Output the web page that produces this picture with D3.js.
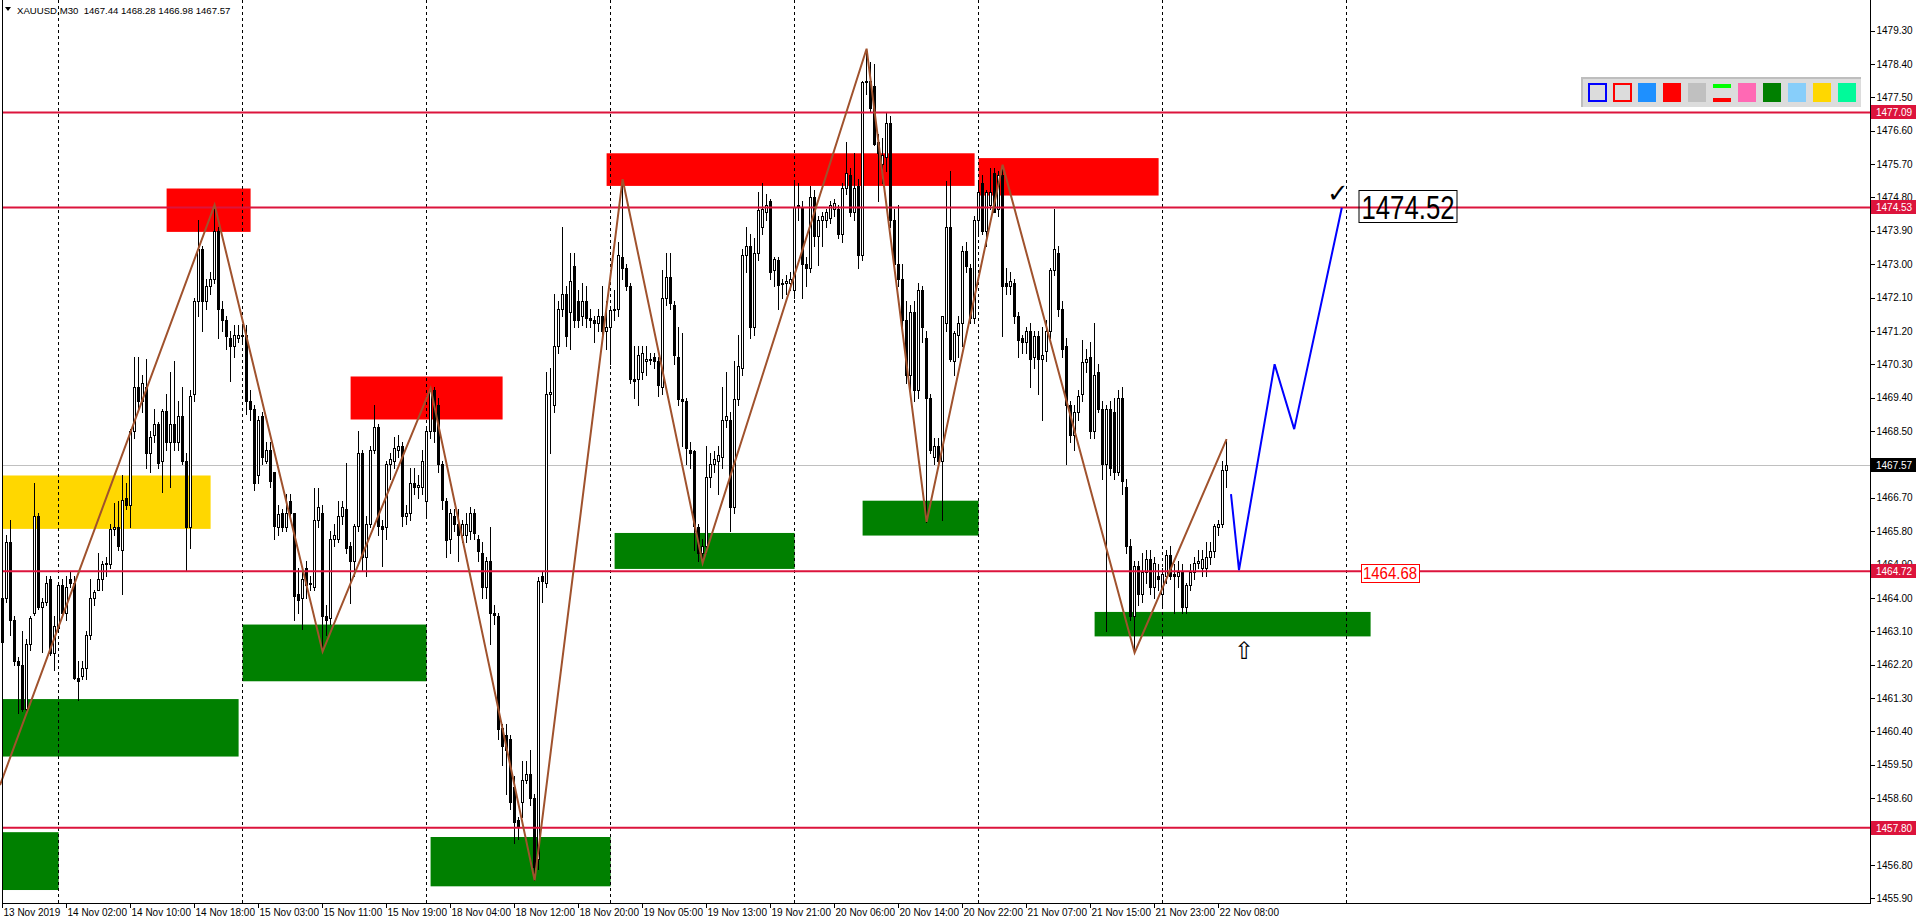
<!DOCTYPE html>
<html><head><meta charset="utf-8">
<script src="https://cdn.jsdelivr.net/npm/d3@7"></script>
<style>
html,body{margin:0;padding:0;background:#fff;overflow:hidden}
svg{display:block}
text{font-family:"Liberation Sans",Arial,sans-serif}
</style></head><body>
<svg id="c" width="1916" height="923"></svg>
<script>
// ---------- DATA ----------
const titleText = "XAUUSD,M30  1467.44 1468.28 1466.98 1467.57";
// candles: [open, high, low, close], M30 bars
const candles = [
[1462.8,1464.2,1462.2,1464.0],[1464.0,1465.7,1463.9,1465.5],[1465.5,1466.1,1463.0,1463.4],[1463.4,1463.5,1462.2,1462.3],[1462.3,1462.4,1460.9,1462.2],[1462.2,1463.1,1460.95,1461.0],[1461.0,1462.9,1460.9,1462.75],[1462.75,1463.5,1462.6,1463.45],[1463.6,1467.1,1463.55,1466.2],[1466.2,1466.3,1463.7,1463.75],
[1463.75,1464.0,1462.55,1463.9],[1463.9,1464.6,1463.8,1464.4],[1464.5,1464.6,1462.45,1462.5],[1462.5,1463.5,1462.05,1463.25],[1463.2,1464.4,1463.1,1464.35],[1464.35,1464.5,1463.5,1463.6],[1463.6,1464.6,1463.4,1464.3],[1464.5,1464.7,1464.3,1464.4],[1464.4,1464.6,1461.8,1461.85],[1461.85,1462.3,1461.25,1461.75],
[1461.9,1462.3,1461.8,1462.1],[1462.1,1463.1,1461.8,1463.0],[1463.0,1464.5,1462.9,1464.0],[1464.0,1464.2,1463.8,1464.15],[1464.2,1465.2,1464.2,1464.5],[1464.5,1465.0,1464.2,1464.9],[1464.9,1465.1,1464.6,1464.95],[1464.9,1466.0,1464.8,1465.85],[1465.85,1466.55,1465.7,1465.9],[1465.9,1466.6,1465.3,1465.4],
[1465.3,1467.3,1464.1,1466.65],[1466.7,1467.1,1466.4,1466.5],[1466.5,1468.55,1465.9,1468.5],[1468.5,1470.5,1468.3,1469.7],[1469.7,1470.5,1469.1,1469.3],[1469.3,1470.0,1469.0,1469.8],[1469.7,1470.45,1467.5,1467.9],[1467.9,1468.5,1467.4,1468.35],[1468.4,1469.1,1468.2,1468.7],[1468.7,1468.75,1467.5,1467.65],
[1467.7,1469.1,1466.85,1469.05],[1469.05,1469.5,1468.0,1468.2],[1468.2,1470.1,1467.0,1468.7],[1468.7,1470.4,1468.0,1468.2],[1468.2,1469.3,1468.0,1468.9],[1468.9,1469.7,1467.6,1467.7],[1467.7,1467.9,1464.75,1465.9],[1465.9,1469.6,1465.35,1469.45],[1469.5,1472.1,1469.3,1472.0],[1472.0,1474.2,1471.6,1473.4],
[1473.4,1473.5,1471.2,1472.0],[1472.0,1472.6,1471.8,1472.4],[1472.4,1472.8,1472.2,1472.6],[1472.6,1474.6,1472.5,1473.9],[1473.9,1474.0,1471.0,1471.8],[1471.8,1472.0,1471.2,1471.5],[1471.5,1471.6,1470.7,1471.05],[1471.0,1471.2,1469.85,1470.8],[1470.8,1471.35,1470.5,1471.1],[1471.0,1471.35,1470.9,1471.1],
[1471.1,1471.3,1470.9,1471.05],[1471.1,1471.35,1468.95,1469.3],[1469.3,1469.6,1468.8,1469.1],[1469.1,1469.2,1466.9,1467.1],[1467.3,1468.9,1467.1,1468.8],[1468.9,1469.0,1467.6,1467.8],[1467.7,1468.2,1467.65,1468.0],[1468.0,1468.2,1467.0,1467.15],[1467.4,1467.4,1465.6,1465.95],[1465.9,1466.5,1465.7,1466.25],
[1466.3,1466.4,1465.8,1465.9],[1465.9,1466.8,1465.8,1466.3],[1466.6,1466.8,1466.1,1466.3],[1466.3,1466.3,1463.4,1464.05],[1464.1,1464.8,1463.6,1463.95],[1464.0,1464.8,1463.15,1464.5],[1464.8,1465.0,1464.0,1464.35],[1464.4,1464.6,1464.2,1464.4],[1464.3,1466.95,1464.2,1466.1],[1466.1,1466.95,1465.9,1466.45],
[1466.3,1466.5,1462.55,1463.5],[1463.5,1463.8,1463.0,1463.4],[1463.45,1465.8,1463.3,1465.6],[1465.6,1466.0,1465.4,1465.7],[1465.6,1466.6,1465.5,1466.2],[1466.2,1466.6,1466.0,1466.45],[1466.4,1467.65,1465.2,1465.35],[1465.4,1465.5,1463.85,1465.0],[1465.0,1466.0,1464.6,1465.95],[1465.95,1468.5,1465.8,1467.9],
[1467.9,1468.0,1464.75,1465.1],[1465.1,1466.2,1464.6,1466.0],[1466.0,1468.1,1465.9,1468.0],[1468.0,1469.2,1467.9,1468.6],[1468.6,1468.7,1465.7,1465.95],[1465.95,1466.1,1464.85,1465.85],[1465.9,1467.7,1465.6,1467.6],[1467.6,1467.9,1467.2,1467.75],[1467.7,1468.35,1467.5,1468.05],[1468.0,1468.4,1467.8,1468.1],
[1468.1,1468.2,1465.95,1466.2],[1466.2,1466.5,1466.0,1466.3],[1466.3,1467.5,1466.1,1467.1],[1467.1,1467.5,1466.8,1467.0],[1467.0,1467.3,1466.7,1467.05],[1467.0,1468.0,1466.8,1467.7],[1466.6,1468.6,1466.2,1468.5],[1468.5,1469.65,1468.3,1469.6],[1469.6,1469.7,1468.2,1468.5],[1469.2,1469.4,1467.4,1467.6],
[1467.6,1467.7,1466.4,1466.65],[1466.6,1466.7,1465.1,1465.55],[1465.6,1466.4,1465.2,1466.3],[1466.2,1466.4,1465.8,1466.0],[1466.0,1466.4,1465.0,1465.7],[1465.7,1466.1,1465.5,1466.0],[1465.7,1466.3,1465.5,1466.0],[1465.8,1466.45,1465.6,1466.3],[1466.3,1466.4,1465.6,1465.75],[1465.6,1465.7,1465.0,1465.25],
[1465.2,1465.5,1464.0,1464.3],[1464.3,1465.1,1464.0,1465.0],[1465.0,1465.9,1462.75,1463.6],[1463.6,1463.8,1463.3,1463.55],[1463.5,1463.6,1460.2,1460.45],[1460.5,1460.6,1459.5,1460.0],[1460.3,1460.6,1458.7,1459.9],[1460.2,1460.3,1458.3,1458.5],[1458.9,1459.2,1457.4,1457.95],[1458.0,1458.1,1457.5,1457.85],
[1458.5,1459.6,1458.1,1459.1],[1459.1,1459.6,1459.0,1459.25],[1459.25,1459.9,1458.4,1458.6],[1458.6,1458.7,1456.38,1456.75],[1456.95,1464.55,1456.7,1464.45],[1464.6,1464.7,1463.9,1464.45],[1464.4,1470.1,1464.3,1469.5],[1469.5,1470.2,1467.9,1469.55],[1469.2,1472.2,1469.0,1470.8],[1470.8,1472.0,1470.6,1471.8],
[1471.8,1474.0,1471.6,1472.2],[1472.2,1472.4,1470.8,1471.05],[1471.7,1473.3,1470.7,1472.55],[1472.95,1473.3,1471.3,1471.5],[1472.0,1472.3,1471.3,1471.5],[1471.6,1472.5,1471.35,1472.0],[1472.0,1472.4,1471.3,1471.55],[1471.55,1471.8,1471.3,1471.5],[1471.5,1471.6,1470.9,1471.4],[1471.4,1471.8,1471.2,1471.6],
[1471.6,1472.4,1471.0,1471.2],[1471.2,1472.0,1470.7,1471.3],[1471.3,1471.8,1470.3,1471.75],[1471.75,1472.3,1471.5,1471.8],[1471.8,1473.6,1471.6,1473.25],[1473.2,1475.29,1472.6,1472.9],[1472.9,1473.0,1472.3,1472.4],[1472.4,1472.5,1469.8,1469.9],[1469.9,1470.8,1469.4,1469.85],[1469.9,1470.8,1469.2,1470.55],
[1470.1,1470.8,1469.9,1470.6],[1470.4,1470.8,1470.0,1470.45],[1470.45,1470.6,1470.3,1470.45],[1470.5,1470.6,1470.2,1470.4],[1470.4,1470.5,1469.45,1469.75],[1469.7,1472.85,1469.5,1472.1],[1472.1,1473.3,1471.9,1472.65],[1472.65,1473.3,1471.8,1471.95],[1471.9,1472.0,1470.3,1470.55],[1470.5,1471.3,1469.2,1469.35],
[1469.35,1471.15,1468.1,1469.3],[1469.3,1469.4,1467.6,1468.05],[1468.0,1468.2,1467.5,1467.9],[1467.95,1468.0,1465.3,1465.95],[1465.9,1466.0,1465.0,1465.2],[1465.2,1465.6,1464.94,1465.4],[1465.4,1468.1,1465.2,1467.25],[1467.25,1467.9,1467.0,1467.6],[1467.6,1467.95,1467.4,1467.75],[1467.7,1468.1,1466.8,1467.85],
[1467.8,1469.7,1467.5,1468.8],[1468.8,1470.1,1468.6,1468.9],[1468.8,1469.0,1465.8,1466.45],[1466.45,1470.4,1466.3,1469.35],[1469.35,1471.1,1469.2,1470.25],[1470.2,1473.4,1470.0,1473.25],[1473.25,1474.0,1472.8,1473.5],[1473.5,1473.8,1471.0,1471.3],[1471.3,1473.7,1471.1,1473.3],[1473.3,1474.95,1473.1,1474.45],
[1474.0,1475.2,1473.8,1474.5],[1474.4,1474.9,1474.2,1474.6],[1474.7,1474.75,1472.6,1472.8],[1472.85,1473.2,1472.4,1473.15],[1473.1,1473.2,1471.8,1472.45],[1472.5,1472.6,1472.1,1472.5],[1472.5,1472.7,1472.2,1472.55],[1472.5,1472.8,1472.3,1472.6],[1472.3,1475.2,1472.1,1474.55],[1474.6,1475.2,1474.2,1474.55],
[1474.55,1474.7,1472.1,1473.0],[1473.0,1473.2,1472.4,1472.9],[1472.9,1475.1,1472.8,1474.8],[1474.8,1475.0,1473.5,1473.75],[1473.75,1474.3,1472.98,1474.2],[1474.2,1474.4,1473.5,1474.3],[1474.2,1474.5,1474.0,1474.4],[1474.25,1474.7,1474.1,1474.6],[1474.5,1474.75,1474.3,1474.65],[1474.5,1474.6,1473.7,1473.8],
[1473.8,1475.2,1473.6,1475.05],[1475.05,1476.3,1474.9,1475.45],[1475.4,1475.6,1474.3,1474.4],[1474.4,1476.0,1474.2,1475.05],[1475.1,1475.3,1472.9,1473.25],[1473.25,1477.95,1473.1,1477.9],[1477.9,1478.81,1477.6,1477.95],[1477.95,1478.45,1477.1,1477.2],[1477.8,1478.4,1476.2,1476.25],[1476.3,1476.5,1474.7,1476.0],
[1475.7,1476.4,1475.2,1475.95],[1475.9,1477.1,1475.5,1476.8],[1476.8,1477.0,1474.0,1474.2],[1474.2,1474.5,1472.9,1473.0],[1473.0,1474.6,1472.4,1472.6],[1472.6,1473.0,1471.3,1471.5],[1471.5,1472.0,1469.8,1470.0],[1470.0,1471.9,1469.6,1471.7],[1471.7,1472.0,1469.3,1469.6],[1469.6,1472.5,1469.4,1472.3],
[1472.3,1472.4,1470.9,1471.3],[1471.0,1471.2,1466.05,1469.4],[1469.4,1469.5,1467.9,1468.0],[1467.8,1468.3,1467.6,1468.1],[1468.1,1468.3,1467.6,1467.7],[1467.7,1471.6,1466.1,1471.6],[1471.4,1475.25,1471.2,1474.0],[1474.0,1475.5,1470.4,1470.45],[1470.4,1471.2,1470.0,1471.15],[1471.1,1471.6,1470.5,1471.4],
[1471.4,1473.5,1470.8,1473.35],[1473.35,1473.6,1472.8,1472.95],[1472.9,1473.0,1471.4,1471.55],[1471.55,1474.3,1471.4,1474.2],[1474.2,1475.2,1473.75,1474.95],[1475.2,1475.4,1473.8,1473.9],[1473.9,1475.0,1473.5,1474.95],[1474.6,1475.6,1474.5,1474.95],[1475.45,1475.6,1474.4,1474.4],[1474.5,1475.5,1474.3,1475.4],
[1475.4,1475.68,1471.05,1472.4],[1472.5,1472.9,1472.2,1472.4],[1472.4,1472.8,1472.2,1472.55],[1472.5,1472.6,1471.4,1471.6],[1471.6,1471.7,1470.5,1470.95],[1471.0,1471.1,1470.6,1470.9],[1470.9,1471.3,1470.6,1471.2],[1471.2,1471.4,1469.7,1470.45],[1470.5,1471.2,1470.2,1471.05],[1471.05,1471.2,1469.5,1470.45],
[1470.45,1471.3,1468.8,1470.55],[1470.65,1471.5,1470.4,1471.2],[1471.2,1472.9,1471.0,1472.85],[1472.85,1474.5,1472.7,1473.4],[1473.3,1473.5,1471.6,1471.8],[1471.8,1472.0,1470.5,1470.7],[1470.8,1471.0,1467.6,1469.2],[1469.2,1469.3,1468.2,1468.4],[1468.4,1469.2,1468.0,1469.0],[1469.0,1469.6,1468.8,1469.45],
[1469.5,1470.95,1469.3,1470.35],[1470.35,1470.7,1470.1,1470.45],[1470.5,1470.9,1468.3,1468.5],[1468.5,1471.4,1468.3,1470.0],[1470.1,1470.3,1469.0,1469.1],[1469.1,1469.3,1467.2,1467.6],[1467.6,1469.2,1463.1,1469.1],[1469.1,1469.3,1467.3,1467.5],[1469.0,1469.4,1467.2,1467.4],[1467.4,1469.6,1467.3,1469.4],
[1469.4,1469.7,1466.8,1467.15],[1467.0,1467.2,1465.2,1465.4],[1465.4,1465.6,1463.4,1463.5],[1463.5,1465.0,1462.52,1464.85],[1464.85,1465.0,1463.8,1464.1],[1464.1,1465.2,1463.9,1464.7],[1464.7,1465.3,1464.4,1465.05],[1465.05,1465.3,1464.1,1464.3],[1464.3,1465.1,1464.0,1464.95],[1464.6,1464.9,1464.2,1464.5],
[1464.1,1464.8,1463.8,1464.65],[1464.6,1465.3,1464.4,1465.15],[1465.15,1465.4,1464.5,1464.6],[1464.65,1464.9,1463.6,1464.6],[1464.6,1465.0,1464.3,1464.7],[1464.7,1464.9,1463.6,1463.75],[1463.75,1464.4,1463.6,1464.35],[1464.35,1464.9,1464.2,1464.7],[1464.7,1465.1,1464.5,1464.95],[1464.95,1465.3,1464.8,1465.0],
[1464.8,1465.3,1464.6,1465.05],[1464.8,1465.5,1464.6,1465.1],[1465.1,1465.5,1464.9,1465.25],[1465.25,1466.0,1465.1,1465.95],[1465.9,1466.1,1465.7,1466.0],[1466.0,1467.7,1465.9,1467.45],[1467.44,1468.28,1466.98,1467.57]
];
const lastBar = 306;
// day separators (bar index of first bar of each day)
const dayStartBars = [14, 60, 106, 152, 198, 244, 290, 336];
// time axis labels
const timeLabelBars = [0,16,32,48,64,80,96,112,128,144,160,176,192,208,224,240,256,272,288,304];
const timeLabels = ["13 Nov 2019","14 Nov 02:00","14 Nov 10:00","14 Nov 18:00","15 Nov 03:00","15 Nov 11:00","15 Nov 19:00","18 Nov 04:00","18 Nov 12:00","18 Nov 20:00","19 Nov 05:00","19 Nov 13:00","19 Nov 21:00","20 Nov 06:00","20 Nov 14:00","20 Nov 22:00","21 Nov 07:00","21 Nov 15:00","21 Nov 23:00","22 Nov 08:00"];
// price axis ticks
const priceTicks = [1455.90,1456.80,1457.70,1458.60,1459.50,1460.40,1461.30,1462.20,1463.10,1464.00,1464.90,1465.80,1466.70,1467.60,1468.50,1469.40,1470.30,1471.20,1472.10,1473.00,1473.90,1474.80,1475.70,1476.60,1477.50,1478.40,1479.30];
// horizontal support/resistance levels
const levels = [1477.09, 1474.53, 1464.72, 1457.80];
const currentPrice = 1467.57;
// supply / demand zones: [startBar, endBar], [upperPrice, lowerPrice]
const zoneBars  = [[0,52],[41,62],[0,59],[0,14],[60,106],[87,125],[107,152],[151,243],[153,198],[215,244],[244,289],[273,342]];
const zonePrices= [[1467.30,1465.86],[1475.04,1473.87],[1461.27,1459.72],[1457.68,1456.12],[1463.28,1461.75],[1469.97,1468.81],[1457.55,1456.22],[1475.99,1475.11],[1465.75,1464.78],[1466.62,1465.68],[1475.86,1474.85],[1463.62,1462.96]];
const zoneColors= ["#FFD700","#FF0000","#008000","#008000","#008000","#FF0000","#008000","#FF0000","#008000","#008000","#FF0000","#008000"];
// zigzag swing points
const zigzagBars   = [-0.65, 53, 80, 107, 133, 155, 175, 216, 231, 250, 283, 306];
const zigzagPrices = [1458.95, 1474.6, 1462.55, 1469.65, 1456.38, 1475.29, 1464.94, 1478.81, 1466.05, 1475.68, 1462.52, 1468.28];
// projected path
const projBars   = [307.1, 309.1, 318, 322.9, 334.8];
const projPrices = [1466.8, 1464.75, 1470.3, 1468.55, 1474.52];
const targetText = "1474.52";
const levelNote = {price: 1464.68, text: "1464.68"};
// toolbar swatches
const toolColors = ["#0000FF","#FF0000","#1E90FF","#FF0000","#C0C0C0","pair","#FF69B4","#008000","#87CEFA","#FFD700","#00FA9A"];

// ---------- SCALES ----------
const W = 1916, H = 923;
const plotL = 2, plotR = 1870, plotB = 903;
const x = d3.scaleLinear().domain([0, lastBar]).range([2.6, 2.6 + 4*lastBar]);
const y = d3.scaleLinear().domain([1455.77, 1480.07]).range([plotB, 2]);

const svg = d3.select("#c");
svg.append("rect").attr("width", W).attr("height", H).attr("fill", "#fff");

const plot = svg.append("g");
plot.append("clipPath").attr("id","clip").append("rect").attr("x",0).attr("y",0).attr("width",plotR).attr("height",plotB);
const g = plot.append("g").attr("clip-path","url(#clip)");

// zones
g.selectAll("rect.zone").data(zoneBars).join("rect")
  .attr("class","zone")
  .attr("x", d => x(d[0]))
  .attr("width", d => x(d[1]) - x(d[0]))
  .attr("y", (d,i) => y(zonePrices[i][0]))
  .attr("height", (d,i) => y(zonePrices[i][1]) - y(zonePrices[i][0]))
  .attr("fill", (d,i) => zoneColors[i]);

// day separators
g.selectAll("line.sep").data(dayStartBars).join("line")
  .attr("x1", d => Math.floor(x(d)) + 0.5).attr("x2", d => Math.floor(x(d)) + 0.5)
  .attr("y1", 0).attr("y2", plotB)
  .attr("stroke", "#000").attr("stroke-width", 1).attr("stroke-dasharray", "3,3")
  .attr("shape-rendering","crispEdges");

// current price line
g.append("line").attr("x1", plotL).attr("x2", plotR)
  .attr("y1", Math.round(y(currentPrice)) + 0.5).attr("y2", Math.round(y(currentPrice)) + 0.5)
  .attr("stroke", "#C0C0C0").attr("stroke-width", 1).attr("shape-rendering","crispEdges");

// candles
const cg = g.append("g").attr("shape-rendering","crispEdges");
cg.selectAll("line.wick").data(candles).join("line")
  .attr("x1", (d,i) => Math.floor(x(i)) + 0.5).attr("x2", (d,i) => Math.floor(x(i)) + 0.5)
  .attr("y1", d => Math.round(y(d[1]))).attr("y2", d => Math.round(y(d[2])) + 1)
  .attr("stroke", "#000").attr("stroke-width", 1);
cg.selectAll("rect.body").data(candles).join("rect")
  .attr("x", (d,i) => Math.floor(x(i)) - 0.5)
  .attr("width", 2)
  .attr("y", d => Math.round(y(Math.max(d[0], d[3]))) + 0.5)
  .attr("height", d => Math.max(1, Math.round(y(Math.min(d[0], d[3]))) - Math.round(y(Math.max(d[0], d[3])))))
  .attr("fill", d => d[3] >= d[0] ? "#fff" : "#000")
  .attr("stroke", "#000").attr("stroke-width", 1);

// levels
g.selectAll("line.level").data(levels).join("line")
  .attr("x1", plotL).attr("x2", plotR)
  .attr("y1", d => y(d)).attr("y2", d => y(d))
  .attr("stroke", "#DC143C").attr("stroke-width", 2);

// zigzag
const zz = zigzagBars.map((b,i) => [x(b), y(zigzagPrices[i])]);
g.append("path").attr("d", d3.line()(zz)).attr("fill","none")
  .attr("stroke", "#A0522D").attr("stroke-width", 2).attr("stroke-linejoin","miter");

// projection
const pp = projBars.map((b,i) => [x(b), y(projPrices[i])]);
g.append("path").attr("d", d3.line()(pp)).attr("fill","none")
  .attr("stroke", "#0000FF").attr("stroke-width", 2);

// target label
const tx = 1358.5;
g.append("rect").attr("x", tx+0.5).attr("y", 190.5).attr("width", 98).attr("height", 32)
  .attr("fill","none").attr("stroke","#000").attr("stroke-width",1);
g.append("text").attr("x", tx + 3).attr("y", 219).text(targetText)
  .attr("font-size", 33).attr("fill", "#000")
  .attr("textLength", 93).attr("lengthAdjust","spacingAndGlyphs");
g.append("text").attr("x", 1327).attr("y", 202).text("\u2713")
  .attr("font-family","DejaVu Sans").attr("font-size", 26).attr("fill","#000");
// up arrow
g.append("text").attr("x", 1234).attr("y", 659).text("\u21E7")
  .attr("font-family","DejaVu Sans").attr("font-size", 24).attr("fill","#000");
// level note
const nx = 1361, ny = y(levelNote.price);
g.append("rect").attr("x", nx+0.5).attr("y", Math.round(ny) - 8.5).attr("width", 58).attr("height", 18)
  .attr("fill","#fff").attr("stroke","#FF0000").attr("stroke-width",1);
g.append("text").attr("x", nx + 2).attr("y", Math.round(ny) + 6).text(levelNote.text)
  .attr("font-size", 16).attr("fill","#FF0000")
  .attr("textLength", 54).attr("lengthAdjust","spacingAndGlyphs");

// ---------- FRAME & AXES ----------
svg.append("line").attr("x1", plotL + 0.5).attr("x2", plotL + 0.5).attr("y1", 0).attr("y2", plotB)
  .attr("stroke","#000").attr("shape-rendering","crispEdges");
svg.append("line").attr("x1", plotL).attr("x2", plotR + 1).attr("y1", plotB + 0.5).attr("y2", plotB + 0.5)
  .attr("stroke","#000").attr("shape-rendering","crispEdges");
svg.append("line").attr("x1", plotR + 0.5).attr("x2", plotR + 0.5).attr("y1", 0).attr("y2", plotB + 1)
  .attr("stroke","#000").attr("shape-rendering","crispEdges");

const yAxis = d3.axisRight(y).tickValues(priceTicks).tickSize(4).tickPadding(2).tickFormat(d => d.toFixed(2));
const ya = svg.append("g").attr("transform", `translate(${plotR + 0.5},0)`).call(yAxis);
ya.select(".domain").remove();
ya.selectAll("line").attr("stroke","#000").attr("shape-rendering","crispEdges");
ya.selectAll("text").attr("font-size", 10).attr("fill","#000").attr("font-family","Liberation Sans, Arial, sans-serif");

const xAxis = d3.axisBottom(x).tickValues(timeLabelBars).tickSize(4).tickPadding(1).tickFormat((d,i) => timeLabels[i]);
const xa = svg.append("g").attr("transform", `translate(0,${plotB + 0.5})`).call(xAxis);
xa.select(".domain").remove();
xa.selectAll(".tick").attr("transform", d => `translate(${Math.floor(x(d)) + 0.5},0)`);
xa.selectAll("line").attr("stroke","#000").attr("shape-rendering","crispEdges");
xa.selectAll("text").attr("text-anchor","start").attr("x", 1).attr("font-size", 10).attr("fill","#000")
  .attr("font-family","Liberation Sans, Arial, sans-serif");

// level labels on price axis
const labG = svg.append("g");
levels.forEach(v => {
  const yy = Math.round(y(v));
  labG.append("rect").attr("x", plotR + 1).attr("y", yy - 7).attr("width", 46).attr("height", 14).attr("fill", "#DC143C");
  labG.append("text").attr("x", plotR + 6).attr("y", yy + 4).text(v.toFixed(2))
    .attr("font-size", 10).attr("fill", "#fff");
});
{
  const yy = Math.round(y(currentPrice));
  labG.append("rect").attr("x", plotR + 1).attr("y", yy - 7).attr("width", 46).attr("height", 14).attr("fill", "#000");
  labG.append("text").attr("x", plotR + 6).attr("y", yy + 4).text(currentPrice.toFixed(2))
    .attr("font-size", 10).attr("fill", "#fff");
}

// title
svg.append("path").attr("d","M5,7 L11,7 L8,11 Z").attr("fill","#000");
svg.append("text").attr("x", 17).attr("y", 14).text(titleText).attr("font-size", 9.6).attr("fill","#000")
  .attr("xml:space","preserve").style("white-space","pre");

// toolbar
const tb = svg.append("g");
tb.append("rect").attr("x", 1581).attr("y", 77).attr("width", 280).attr("height", 30).attr("fill", "#DCDCDC");
tb.append("rect").attr("x", 1581).attr("y", 77).attr("width", 280).attr("height", 2).attr("fill", "#BEBEBE");
tb.append("rect").attr("x", 1581).attr("y", 77).attr("width", 2).attr("height", 30).attr("fill", "#BEBEBE");
toolColors.forEach((c, i) => {
  const bx = 1588 + 25*i, by = 83;
  if (i < 2) {
    tb.append("rect").attr("x", bx + 1).attr("y", by + 1).attr("width", 17).attr("height", 17)
      .attr("fill","#DCDCDC").attr("stroke", c).attr("stroke-width", 2);
  } else if (c === "pair") {
    tb.append("rect").attr("x", bx).attr("y", by + 1).attr("width", 18).attr("height", 4).attr("fill", "#00FF00");
    tb.append("rect").attr("x", bx).attr("y", by + 15).attr("width", 18).attr("height", 4).attr("fill", "#FF0000");
  } else {
    tb.append("rect").attr("x", bx).attr("y", by).attr("width", 18).attr("height", 19).attr("fill", c);
  }
});
</script>
</body></html>
